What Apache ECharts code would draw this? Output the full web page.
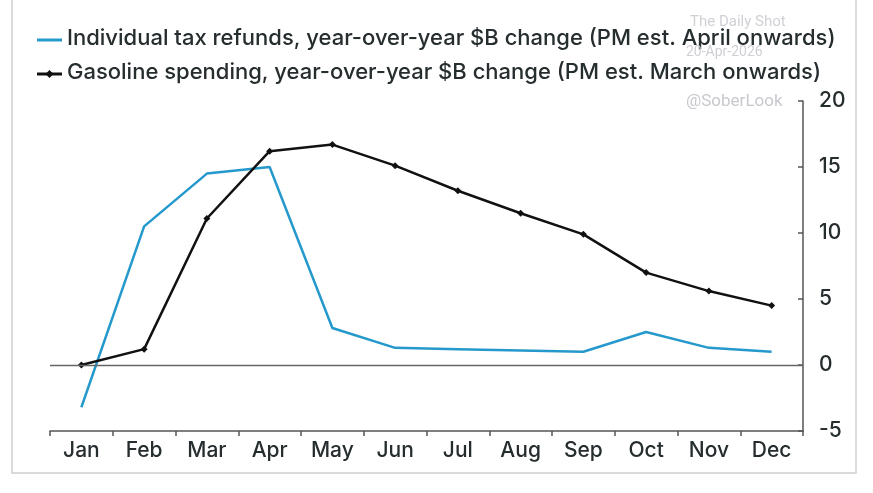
<!DOCTYPE html>
<html><head><meta charset="utf-8">
<script src="https://cdn.jsdelivr.net/npm/echarts@6/dist/echarts.min.js"></script>
<style>html,body{margin:0;padding:0;background:#fff}#c{width:873px;height:493px}</style>
</head><body><div id="c"></div>
<script>
const months = ['Jan','Feb','Mar','Apr','May','Jun','Jul','Aug','Sep','Oct','Nov','Dec'];
const taxRefunds = [-3.2, 10.5, 14.5, 15.0, 2.8, 1.3, 1.2, 1.1, 1.0, 2.5, 1.3, 1.0];
const gasoline = [0.0, 1.2, 11.1, 16.2, 16.7, 15.1, 13.2, 11.5, 9.9, 7.0, 5.6, 4.5];
const yTicks = [-5, 0, 5, 10, 15, 20];
const taxName = 'Individual tax refunds, year-over-year $B change (PM est. April onwards)';
const gasName = 'Gasoline spending, year-over-year $B change (PM est. March onwards)';

const FONT = 'Inter';
const TXT = '#262d2f';
const BLUE = '#2599cb';
const chart = echarts.init(document.getElementById('c'));
chart.setOption({
  animation: false,
  backgroundColor: '#fff',
  textStyle: {fontFamily: FONT},
  grid: {left: 50, right: 70, top: 101, bottom: 62},
  legend: {show: false, data: [taxName, gasName]},
  graphic: [
    {type: 'rect', shape: {x: 12, y: -5, width: 844, height: 478}, style: {fill: 'none', stroke: '#cfcfcf', lineWidth: 1.5}, silent: true, z: 0},
    {type: 'line', shape: {x1: 37, y1: 40, x2: 62, y2: 40}, style: {stroke: BLUE, lineWidth: 3}},
    {type: 'line', shape: {x1: 37, y1: 74, x2: 62, y2: 74}, style: {stroke: '#111', lineWidth: 3}},
    {type: 'polygon', shape: {points: [[49.5,70],[53.5,74],[49.5,78],[45.5,74]]}, style: {fill: '#111'}},
    {type: 'text', left: 67, top: 27, style: {text: taxName, fill: TXT, font: '500 22px Inter'}},
    {type: 'text', left: 67, top: 61, style: {text: gasName, fill: TXT, font: '500 22px Inter'}},
    {type: 'text', left: 690, top: 15, style: {text: 'The Daily Shot', fill: '#d0d0d6', font: '15px Roboto'}, z: 10},
    {type: 'text', left: 686, top: 45, style: {text: '20-Apr-2026', fill: '#d0d0d6', font: '14px Roboto'}, z: 10},
    {type: 'text', left: 686, top: 93, style: {text: '@SoberLook', fill: '#c8c8cf', font: '17px Roboto'}}
  ],
  xAxis: {
    type: 'category', data: months, boundaryGap: true,
    axisLine: {show: true, onZero: false, lineStyle: {color: '#555', width: 1.5}},
    axisTick: {show: true, length: 5, lineStyle: {color: '#555', width: 1.5}},
    axisLabel: {fontFamily: FONT, fontSize: 21, fontWeight: 500, color: TXT, margin: 9},
    splitLine: {show: false}
  },
  yAxis: {
    type: 'value', position: 'right', min: yTicks[0], max: yTicks[yTicks.length-1], interval: 5,
    axisLine: {show: true, onZero: false, lineStyle: {color: '#555', width: 1.5}},
    axisTick: {show: true, inside: true, length: 5, lineStyle: {color: '#555', width: 1.5}},
    axisLabel: {fontFamily: FONT, fontSize: 21, fontWeight: 500, color: TXT, margin: 16},
    splitLine: {show: false}
  },
  series: [
    {
      name: taxName, type: 'line', data: taxRefunds, symbol: 'none',
      lineStyle: {color: BLUE, width: 2.5}, itemStyle: {color: BLUE},
      markLine: {silent: true, symbol: 'none', label: {show: false},
        lineStyle: {color: '#666', width: 1.3, type: 'solid'}, data: [{yAxis: 0}]}
    },
    {
      name: gasName, type: 'line', data: gasoline, symbol: 'diamond', symbolSize: 7,
      lineStyle: {color: '#111', width: 2.5}, itemStyle: {color: '#111'}
    }
  ]
});
</script></body></html>
